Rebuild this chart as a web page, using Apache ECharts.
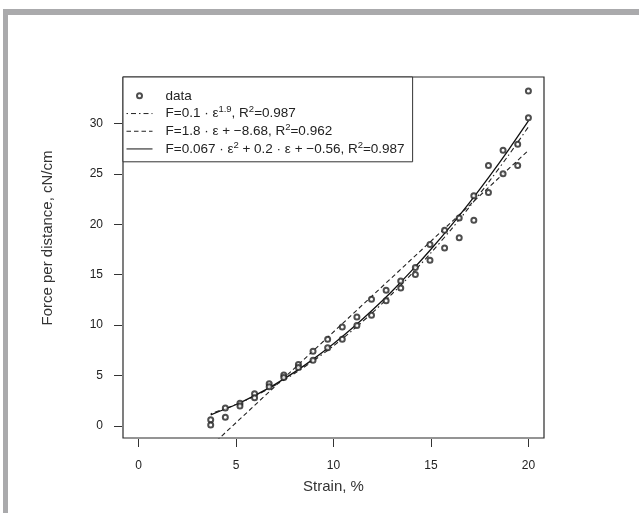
<!DOCTYPE html>
<html>
<head>
<meta charset="utf-8">
<script src="https://cdn.jsdelivr.net/npm/echarts@6/dist/echarts.min.js"></script>
<style>
html,body{margin:0;padding:0;background:#fff;}
#c{width:639px;height:513px;}
</style>
</head>
<body>
<div id="c"></div>
<script>
// ---- data ----
var strain  = [3.7, 4.45, 5.2, 5.95, 6.7, 7.45, 8.2, 8.95, 9.7, 10.45, 11.2, 11.95, 12.7, 13.45, 14.2, 14.95, 15.7, 16.45, 17.2, 17.95, 18.7, 19.45, 20.0];
var forceA  = [0.6, 1.77, 2.25, 3.2, 4.19, 5.05, 6.1, 7.4, 8.6, 9.81, 10.8, 12.55, 13.45, 14.37, 15.7, 18.0, 19.4, 20.62, 22.82, 25.82, 27.33, 27.92, 33.2];
var forceB  = [0.1, 0.87, 1.97, 2.8, 3.88, 4.8, 5.8, 6.5, 7.75, 8.6, 9.95, 10.97, 12.4, 13.68, 15.02, 16.43, 17.65, 18.67, 20.4, 23.14, 25.0, 25.83, 30.57];

var fitX    = [3.7, 5, 6, 7, 8, 9, 10, 11, 12, 13, 14, 15, 16, 17, 18, 19, 20];
var powerY  = [1.20, 2.13, 3.01, 4.03, 5.20, 6.50, 7.94, 9.52, 11.23, 13.08, 15.05, 17.16, 19.40, 21.77, 24.27, 26.89, 29.65];
var quadY   = [1.10, 2.12, 3.05, 4.12, 5.33, 6.67, 8.14, 9.75, 11.49, 13.36, 15.37, 17.52, 19.79, 22.20, 24.75, 27.43, 30.24];
var linX    = [3.7, 20];
var linY    = [-2.02, 27.32];

var xTicks  = [0, 5, 10, 15, 20];
var yTicks  = [0, 5, 10, 15, 20, 25, 30];

var legendLabels = {
  data:   '{p| }{a|data}',
  power:  '{p| }{a|F=0.1 · ε}{s|1.9}{a|, R}{s|2}{a|=0.987}',
  linear: '{p| }{a|F=1.8 · ε + −8.68, R}{s|2}{a|=0.962}',
  quad:   '{p| }{a|F=0.067 · ε}{s|2}{a| + 0.2 · ε + −0.56, R}{s|2}{a|=0.987}'
};

function pairs(xs, ys) { return xs.map(function (x, i) { return [x, ys[i]]; }); }
var scatterData = pairs(strain, forceA).concat(pairs(strain, forceB));

var FONT = '"Liberation Sans", Arial, Helvetica, sans-serif';
var INK = '#222';

var chart = echarts.init(document.getElementById('c'), null, {renderer: 'canvas'});
chart.setOption({
  animation: false,
  backgroundColor: '#fff',
  textStyle: {fontFamily: FONT},
  grid: {left: 123, right: 95, top: 77, bottom: 75, show: true, borderColor: '#2a2a2a', borderWidth: 1.2, backgroundColor: 'transparent'},
  xAxis: {
    type: 'value', min: -0.8, max: 20.8, offset: 1,
    axisLine: {show: false, onZero: false}, splitLine: {show: false},
    axisTick: {show: true, inside: false, length: 8, customValues: xTicks, lineStyle: {color: '#333', width: 1}},
    axisLabel: {customValues: xTicks, margin: 21, fontSize: 12, color: INK, fontFamily: FONT},
    name: 'Strain, %', nameLocation: 'middle', nameGap: 40,
    nameTextStyle: {fontSize: 15, color: '#333', fontFamily: FONT}
  },
  yAxis: {
    type: 'value', min: -1.2, max: 34.6, offset: 1,
    axisLine: {show: false, onZero: false}, splitLine: {show: false},
    axisTick: {show: true, inside: false, length: 8, customValues: yTicks, lineStyle: {color: '#333', width: 1}},
    axisLabel: {customValues: yTicks, margin: 19, fontSize: 12, color: INK, fontFamily: FONT}
  },
  legend: {
    orient: 'vertical', left: 123, top: 77,
    padding: [10, 8, 4, 3], itemGap: 0, itemWidth: 26, itemHeight: 5,
    borderColor: '#333', borderWidth: 1, backgroundColor: '#fff',
    data: [
      {name: 'data', icon: 'emptyCircle'},
      {name: 'power'}, {name: 'linear'}, {name: 'quad'}
    ],
    lineStyle: {width: 1},
    formatter: function (n) { return legendLabels[n]; },
    textStyle: {
      fontFamily: FONT, fontSize: 13.5, color: INK, lineHeight: 17.7,
      rich: {
        p: {width: 8, fontSize: 13.5, lineHeight: 17.7},
        a: {fontSize: 13.5, lineHeight: 17.7, color: INK, fontFamily: FONT},
        s: {fontSize: 9.5, lineHeight: 9, verticalAlign: 'top', color: INK, fontFamily: FONT}
      }
    },
    selectedMode: false
  },
  series: [
    {
      name: 'data', type: 'scatter', data: scatterData, symbol: 'emptyCircle', symbolSize: 5,
      color: '#222',
      itemStyle: {color: '#222', borderColor: '#222', borderWidth: 0.9}, z: 5
    },
    {
      name: 'power', type: 'line', data: pairs(fitX, powerY), smooth: 0.3, showSymbol: false, symbol: 'none',
      color: '#222', itemStyle: {color: '#222', opacity: 0},
      lineStyle: {color: '#222', width: 1.1, type: [1.5, 3, 5, 3]}, z: 3
    },
    {
      name: 'linear', type: 'line', data: pairs(linX, linY), showSymbol: false, symbol: 'none', clip: true,
      color: '#222', itemStyle: {color: '#222', opacity: 0},
      lineStyle: {color: '#222', width: 1.1, type: [4.5, 3]}, z: 3
    },
    {
      name: 'quad', type: 'line', data: pairs(fitX, quadY), smooth: 0.3, showSymbol: false, symbol: 'none',
      color: '#111', itemStyle: {color: '#111', opacity: 0},
      lineStyle: {color: '#111', width: 1.3, type: 'solid'}, z: 4
    }
  ],
  graphic: [
    {type: 'rect', shape: {x: 3, y: 9, width: 636, height: 6}, style: {fill: '#aaaaac'}, silent: true},
    {type: 'rect', shape: {x: 3, y: 9, width: 5, height: 504}, style: {fill: '#aaaaac'}, silent: true},
    {type: 'text', x: 48, y: 238, rotation: Math.PI / 2,
     style: {text: 'Force per distance, cN/cm', fontSize: 15, fill: '#333', fontFamily: FONT, align: 'center', verticalAlign: 'middle'}}
  ]
});
</script>
</body>
</html>
